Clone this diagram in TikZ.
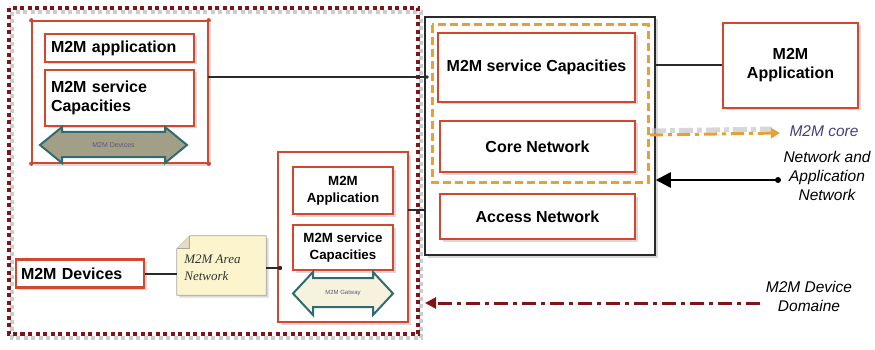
\documentclass[tikz,border=0pt]{standalone}
\usepackage{fontspec}
\setmainfont{Liberation Sans}
\newfontfamily\handfont{Liberation Serif}
\usetikzlibrary{shadows,arrows.meta,calc}
\definecolor{boxred}{HTML}{D4472F}
\definecolor{domred}{HTML}{7E1619}
\definecolor{coreorange}{HTML}{E6A034}
\definecolor{arrowteal}{HTML}{2E6C70}
\definecolor{khaki}{HTML}{A39F86}
\definecolor{cream}{HTML}{F6F2DE}
\definecolor{notefill}{HTML}{FBF4CD}
\definecolor{labelpurple}{HTML}{4A3D7A}
\definecolor{frameline}{HTML}{2A2A2A}
\tikzset{
  shade/.style={drop shadow={opacity=0.3,shadow xshift=2.5pt,shadow yshift=-2.5pt}},
  redbox/.style={draw=boxred, line width=2.6pt, fill=white, shade, inner sep=0pt,
    align=center, font=\bfseries\fontsize{16}{19}\selectfont},
  smallbox/.style={redbox, font=\bfseries\fontsize{13.3}{16.5}\selectfont},
  groupbox/.style={draw=boxred, line width=1.3pt, fill=white, shade, inner sep=0pt},
  link/.style={draw=frameline, line width=2pt},
  tag/.style={font=\itshape\fontsize{15.5}{19}\selectfont, align=center},
  arrowbody/.style={draw=arrowteal, line width=2pt},
  arrowtext/.style={font=\fontsize{7}{8}\selectfont, text=labelpurple!60!gray, inner sep=0pt},
  domdots/.style={line width=4pt, dash pattern=on 4pt off 3.5pt},
}
\begin{document}
\begin{tikzpicture}[x=1pt,y=-1pt]
\useasboundingbox (0,0) rectangle (875,350);

% device domain frame (square dots, with a soft grey copy beneath)
\draw[gray!40, domdots] (12,12) rectangle (421,338);
\draw[domred, domdots] (9,8) rectangle (418,334);

% top-left group: application + service capacities + devices arrow
\node[groupbox, minimum width=176pt, minimum height=142pt] (grp1) at (120,92) {};
\foreach \c in {north west,north east,south west,south east}
  \fill[boxred] (grp1.\c) circle (2.2pt);
\node[redbox, minimum width=149pt, minimum height=28pt, text width=137pt, align=left]
  (app1) at (119.5,48) {M2M application};
\node[redbox, minimum width=149pt, minimum height=56pt, text width=137pt, align=left]
  (svc1) at (119.5,98) {M2M service\\Capacities};
\filldraw[arrowbody, fill=khaki]
  (40,145) -- (62,127) -- (62,132) -- (165,132) -- (165,127) -- (187,145)
  -- (165,163) -- (165,157) -- (62,157) -- (62,163) -- cycle;
\node[arrowtext] (devarrow) at (113.5,145) {M2M Devices};

% core / access stack
\node[draw=frameline, line width=1.5pt, fill=white, shade, minimum width=230pt,
  minimum height=238pt, inner sep=0pt] (stack) at (540,136) {};
\draw[coreorange, line width=3pt, dash pattern=on 8pt off 4pt] (432,25) rectangle (648,182);
\node[redbox, minimum width=197pt, minimum height=69pt] (svc2) at (536.5,67.5) {M2M service Capacities};
\node[redbox, minimum width=195pt, minimum height=51pt] (core) at (537.5,146.5) {Core Network};
\node[redbox, minimum width=195pt, minimum height=45pt] (access) at (537.5,216.5) {Access Network};

% remote application
\node[redbox, minimum width=135pt, minimum height=85pt] (app3) at (790.5,65.5) {M2M\\Application};

% gateway group
\node[groupbox, minimum width=130pt, minimum height=170pt] (grp2) at (343,237) {};
\node[smallbox, minimum width=100pt, minimum height=47pt] (app2) at (343,190.5) {M2M\\Application};
\node[smallbox, minimum width=100pt, minimum height=45pt] (svc3) at (343,247.5) {M2M service\\Capacities};
\filldraw[arrowbody, fill=cream]
  (293,293.5) -- (313,272) -- (313,278) -- (373,278) -- (373,272) -- (393,293.5)
  -- (373,315) -- (373,307) -- (313,307) -- (313,315) -- cycle;
\node[arrowtext, font=\fontsize{6}{7}\selectfont] (gwarrow) at (343,293.5) {M2M Gatway};

% devices and area network note
\node[redbox, minimum width=128pt, minimum height=28pt, text width=118pt, align=left]
  (dev) at (80,273.5) {M2M Devices};
\node[minimum width=89pt, minimum height=59pt, inner sep=0pt] (note) at (221.5,265.5) {};
\filldraw[draw=gray!70, fill=notefill, line width=0.8pt, shade]
  ($(note.north west)+(13,0)$) -- (note.north east) -- (note.south east)
  -- (note.south west) -- ($(note.north west)+(0,13)$) -- cycle;
\filldraw[draw=gray!70, fill=notefill!80!gray, line width=0.8pt]
  ($(note.north west)+(0,13)$) -- ($(note.north west)+(13,13)$) -- ($(note.north west)+(13,0)$);
\node[font=\handfont\itshape\fontsize{13}{17}\selectfont, text=gray!40!black, align=left, anchor=west]
  (notetext) at ($(note.west)+(4,2)$) {M2M Area\\Network};

% connectors
\coordinate (l1a) at (208,77);
\coordinate (l1b) at (427,77);
\draw[link] (l1a) -- (l1b);
\fill[frameline] (l1b) circle (1.8pt);
\draw[link] (stack.east |- app3.west) -- (app3.west);
\coordinate (l3a) at (408,210);
\draw[link] (l3a) -- (stack.west |- l3a);
\draw[link] (dev.east) -- (note.west |- dev.east);
\coordinate (l5b) at (280,268);
\draw[link] (note.east |- l5b) -- (l5b);
\fill[frameline] (l5b) circle (2.2pt);

% M2M core pointer
\draw[gray!45, line width=5pt, opacity=0.7, dash pattern=on 14pt off 4pt on 5pt off 4pt] (652,131) -- (772,129);
\coordinate (corestart) at (650,135);
\coordinate (coretip) at (780,133);
\draw[coreorange, line width=3pt, dash pattern=on 13pt off 5pt on 4pt off 5pt,
  -{Triangle[length=9pt,width=10pt]}] (corestart) -- (coretip);
\node[tag, text=labelpurple, anchor=west] (corelabel) at (786,131) {M2M core};

% network and application pointer
\coordinate (nasrc) at (778,180);
\draw[black, line width=2.5pt, -{Triangle[length=15pt,width=15pt]}] (nasrc) -- (stack.east |- nasrc);
\fill (nasrc) circle (3pt);
\node[tag] (nalabel) at (827,176) {Network and\\Application\\Network};

% device domain pointer
\coordinate (ddsrc) at (760,303);
\draw[domred, line width=3pt, dash pattern=on 14pt off 5pt on 4pt off 5pt,
  -{Triangle[length=11pt,width=11pt]}] (ddsrc) -- (425,303);
\node[tag] (ddlabel) at (809,296) {M2M Device\\Domaine};
\end{tikzpicture}
\end{document}
